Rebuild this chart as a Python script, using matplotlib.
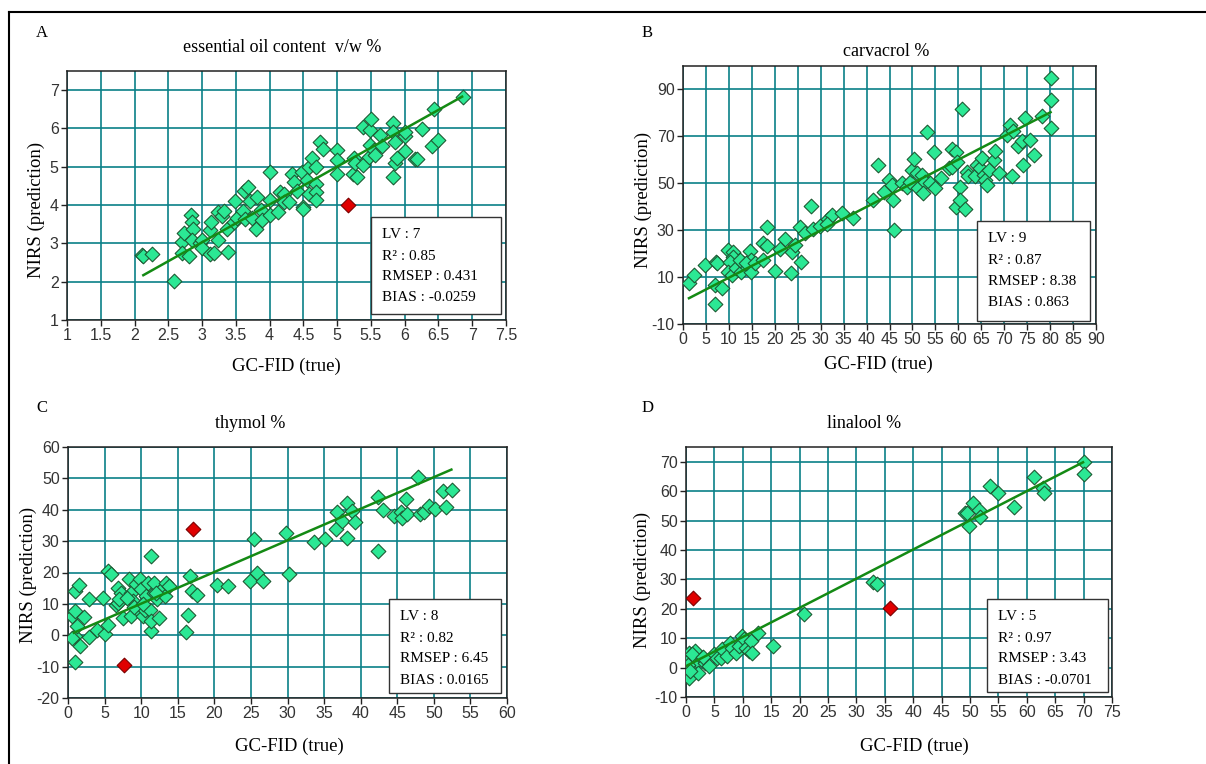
import matplotlib.pyplot as plt
from matplotlib.lines import Line2D
from matplotlib.patches import Rectangle
from matplotlib.ticker import FuncFormatter, MultipleLocator

# --- data ------------------------------------------------------------------
# A: essential oil content
oil_x = [2.11, 2.12, 2.26, 2.58, 2.70, 2.70, 2.73, 2.80, 2.83, 2.85, 2.87, 2.85,
         2.97, 3.00, 3.00, 3.11, 3.12, 3.13, 3.17, 3.24, 3.24, 3.29, 3.33, 3.37,
         3.39, 3.47, 3.49, 3.52, 3.61, 3.62, 3.63, 3.68, 3.71, 3.74, 3.80, 3.81,
         3.87, 3.89, 4.00, 4.00, 4.00, 4.13, 4.15, 4.21, 4.21, 4.29, 4.33, 4.36,
         4.41, 4.48, 4.49, 4.50, 4.55, 4.58, 4.58, 4.63, 4.68, 4.68, 4.68, 4.69,
         4.75, 4.79, 5.00, 5.00, 5.00, 5.23, 5.25, 5.27, 5.29, 5.38, 5.39, 5.47,
         5.49, 5.49, 5.50, 5.54, 5.56, 5.63, 5.66, 5.83, 5.83, 5.83, 5.86, 5.86,
         5.89, 6.00, 6.00, 6.00, 6.15, 6.18, 6.25, 6.41, 6.43, 6.50, 6.86]
oil_y = [2.70, 2.68, 2.71, 2.03, 3.04, 2.74, 3.26, 2.67, 3.74, 3.57, 3.37, 3.10,
         3.00, 3.10, 2.88, 2.72, 3.34, 3.56, 2.74, 3.83, 3.09, 3.72, 3.85, 3.37,
         2.78, 3.55, 4.10, 3.67, 3.85, 4.37, 3.63, 4.47, 4.10, 3.65, 3.37, 4.20,
         3.87, 3.60, 4.87, 4.13, 3.74, 3.82, 4.34, 4.30, 4.08, 4.08, 4.82, 4.60,
         4.38, 4.87, 3.95, 3.91, 4.65, 5.00, 4.30, 5.24, 5.00, 4.56, 4.34, 4.13,
         5.64, 5.47, 5.43, 5.17, 4.82, 4.80, 5.24, 5.11, 4.72, 5.05, 6.04, 5.25,
         5.95, 5.56, 6.25, 5.43, 5.30, 5.83, 5.53, 6.15, 5.90, 4.73, 5.65, 5.10,
         5.22, 5.80, 5.40, 5.90, 5.20, 5.20, 5.99, 5.55, 6.52, 5.70, 6.83]
oil_out_x = [5.16]
oil_out_y = [4.00]
oil_fit_x = [2.13, 6.85]
oil_fit_y = [2.17, 6.83]

# B: carvacrol
carv_x = [1.3, 2.4, 4.7, 7.1, 7.4, 6.9, 6.9, 8.6, 9.8, 10.9, 10.9, 10.2, 9.8,
          10.7, 11.6, 12.7, 13.1, 12.4, 14.6, 14.9, 14.9, 13.8, 15.6, 17.5, 18.2,
          18.2, 17.5, 20.0, 21.1, 22.2, 23.7, 23.5, 24.4, 25.5, 25.8, 26.6, 27.8,
          28.4, 29.8, 31.7, 32.4, 31.3, 34.6, 37.1, 41.5, 42.4, 43.7, 44.8, 45.7,
          46.0, 45.5, 47.7, 48.8, 49.5, 49.8, 50.4, 50.9, 51.3, 52.0, 52.8, 52.4,
          53.1, 53.8, 54.6, 54.9, 56.2, 57.9, 58.6, 58.6, 59.5, 59.7, 59.4, 60.3,
          60.4, 60.8, 61.5, 61.9, 62.1, 63.7, 64.1, 64.8, 65.1, 65.5, 65.8, 66.2,
          66.6, 67.7, 68.0, 68.8, 70.6, 71.7, 71.3, 72.0, 73.1, 73.8, 74.2, 74.6,
          75.7, 76.4, 78.2, 80.1, 80.1, 80.2]
carv_y = [7.3, 10.9, 15.1, 16.3, 15.8, 6.7, -1.5, 5.3, 21.5, 20.8, 18.6, 16.5, 12.2,
          10.8, 13.7, 12.2, 15.8, 17.2, 21.2, 17.2, 12.2, 15.8, 15.8, 24.5, 31.3,
          23.1, 17.2, 12.6, 22.1, 26.4, 20.8, 11.9, 23.7, 31.2, 16.5, 28.8, 40.1,
          30.3, 31.7, 34.6, 36.3, 32.5, 37.4, 35.0, 42.9, 57.8, 46.4, 51.4, 42.9,
          30.1, 49.3, 50.0, 48.6, 50.7, 55.7, 60.2, 54.3, 47.9, 53.6, 50.7, 45.7,
          71.9, 50.3, 63.3, 47.9, 52.1, 56.4, 64.8, 57.1, 63.4, 59.1, 39.8, 48.6,
          42.9, 81.5, 39.2, 55.0, 52.9, 52.9, 57.8, 56.4, 60.7, 53.6, 51.4, 49.3,
          55.7, 60.0, 63.6, 54.3, 70.7, 52.9, 75.0, 72.2, 65.8, 68.0, 57.8, 77.8,
          68.6, 62.2, 78.5, 73.5, 85.7, 94.7]
carv_fit_x = [1.3, 80.1]
carv_fit_y = [1.0, 80.3]

# C: thymol
thym_x = [0.9, 1.5, 0.6, 0.9, 2.2, 2.9, 1.0, 1.7, 1.2, 2.9, 1.0, 0.5, 4.0, 5.1,
          5.4, 4.8, 5.5, 5.9, 6.5, 6.8, 7.2, 7.5, 6.8, 8.4, 8.6, 8.6, 8.9, 9.3,
          9.5, 9.9, 10.0, 10.2, 10.5, 10.7, 10.9, 11.2, 11.4, 11.4, 11.4, 11.8,
          11.8, 12.1, 12.5, 12.8, 13.2, 13.4, 13.8, 7.0, 9.0, 12.0, 10.3, 8.0,
          16.4, 16.1, 16.7, 17.0, 17.6, 20.4, 21.8, 24.9, 25.4, 25.8, 26.6, 29.8,
          30.2, 33.6, 35.1, 36.6, 36.7, 37.4, 38.1, 38.1, 38.8, 39.2, 42.4, 42.4,
          43.1, 44.6, 45.5, 45.7, 46.2, 46.4, 47.9, 48.1, 48.7, 49.4, 50.2, 51.2,
          51.7, 52.5]
thym_y = [14.0, 15.9, 6.1, 7.7, 5.9, 11.6, -0.1, -3.5, 3.0, -0.5, -8.6, -0.8, 1.6,
          0.5, 3.4, 12.0, 20.5, 19.5, 9.5, 15.2, 13.6, 5.5, 10.4, 17.8, 13.6, 6.1,
          10.9, 16.3, 8.2, 17.8, 14.7, 6.1, 8.2, 12.5, 16.8, 8.2, 25.2, 1.3, 4.5,
          13.6, 16.8, 11.4, 5.6, 14.7, 12.5, 16.8, 15.7, 11.5, 9.0, 13.5, 10.0,
          12.0, 6.3, 1.0, 18.8, 14.0, 12.7, 16.0, 15.7, 17.3, 30.8, 20.0, 17.3,
          32.5, 19.5, 29.6, 30.6, 34.0, 39.3, 36.4, 42.1, 31.1, 39.6, 36.1, 44.2,
          26.7, 40.0, 38.1, 39.4, 37.3, 43.4, 38.8, 50.3, 38.8, 39.4, 41.3, 40.2,
          46.1, 40.8, 46.3]
thym_out_x = [7.7, 17.1]
thym_out_y = [-9.6, 33.8]
thym_fit_x = [0.8, 52.4]
thym_fit_y = [0.8, 52.8]

# D: linalool
lina_x = [0.5, 0.8, 0.2, 0.5, 1.1, 1.6, 1.9, 2.2, 2.8, 3.3, 4.0, 4.9, 5.5, 6.1,
          6.4, 7.2, 7.7, 8.1, 8.8, 9.3, 9.9, 10.2, 10.5, 11.1, 11.4, 11.7, 12.7,
          15.3, 0.3, 1.0, 3.0, 0.7, 20.8, 32.9, 33.6, 49.1, 49.4, 49.9, 50.6,
          51.5, 51.8, 53.5, 55.0, 57.8, 61.3, 62.8, 63.0, 70.0, 70.0]
lina_y = [4.9, 3.2, -2.3, -3.4, 0.6, 5.6, 2.2, -1.8, 3.2, 1.6, 0.5, 4.5, 3.4, 3.4,
          6.3, 4.0, 8.5, 6.8, 5.1, 7.4, 10.7, 9.6, 6.8, 5.7, 9.1, 5.1, 11.7,
          7.2, 1.0, 4.5, 3.5, -1.0, 18.2, 29.0, 28.4, 52.5, 52.7, 48.0, 56.0,
          53.7, 51.2, 61.6, 59.3, 54.5, 64.8, 61.0, 59.5, 70.0, 65.9]
lina_out_x = [1.2, 35.9]
lina_out_y = [23.5, 20.1]
lina_fit_x = [0.0, 69.9]
lina_fit_y = [0.5, 69.8]

stats_a = ["LV : 7", "R\u00b2 : 0.85", "RMSEP : 0.431", "BIAS : -0.0259"]
stats_b = ["LV : 9", "R\u00b2 : 0.87", "RMSEP : 8.38", "BIAS : 0.863"]
stats_c = ["LV : 8", "R\u00b2 : 0.82", "RMSEP : 6.45", "BIAS : 0.0165"]
stats_d = ["LV : 5", "R\u00b2 : 0.97", "RMSEP : 3.43", "BIAS : -0.0701"]

# --- styling ---------------------------------------------------------------
W, H = 1206, 764
SERIF = ['Liberation Serif', 'DejaVu Serif']
NARROW = ['Liberation Sans Narrow', 'Liberation Sans', 'DejaVu Sans']
GRID = '#0b8088'
FILL = '#2be894'
EDGE = '#1d5a33'
RED = '#e00000'
LINE = '#148a14'

fig = plt.figure(figsize=(W / 100, H / 100), dpi=100)


def fx(px):
    return px / W


def fy(py):
    return 1 - py / H


def make_panel(rect, x, y, ox, oy, fit_x, fit_y, xlim, ylim, xstep, ystep, yoff,
               letter, letter_xy, title, title_xy, xlab_xy, ylab_xy, box, text_x, text_y, stats):
    l, t, r, b = rect
    ax = fig.add_axes([fx(l), fy(b), fx(r - l), (b - t) / H])
    ax.set_xlim(*xlim)
    ax.set_ylim(*ylim)
    ax.xaxis.set_major_locator(MultipleLocator(xstep))
    ax.yaxis.set_major_locator(MultipleLocator(ystep, offset=yoff))
    fmt = FuncFormatter(lambda v, p: '{:g}'.format(round(v, 3)))
    ax.xaxis.set_major_formatter(fmt)
    ax.yaxis.set_major_formatter(fmt)
    ax.grid(True, color=GRID, lw=1.2, zorder=0)
    ax.set_axisbelow(True)
    for s in ax.spines.values():
        s.set_color('#222222')
        s.set_linewidth(1.1)
    ax.tick_params(direction='out', length=4, width=1, colors='#222222',
                   labelsize=11.5, pad=2)
    for lab in ax.get_xticklabels() + ax.get_yticklabels():
        lab.set_family(NARROW)
        lab.set_color('#333333')

    ax.scatter(x, y, marker='D', s=56, c=FILL, edgecolors=EDGE, linewidths=0.8, zorder=3)
    if ox:
        ax.scatter(ox, oy, marker='D', s=56, c=RED, edgecolors='#7a0000', linewidths=0.8, zorder=3)
    ax.plot(fit_x, fit_y, color=LINE, lw=1.8, zorder=4)

    fig.text(fx(letter_xy[0]), fy(letter_xy[1]), letter, family=SERIF, fontsize=12,
             ha='center', va='center')
    fig.text(fx(title_xy[0]), fy(title_xy[1]), title, family=SERIF, fontsize=13,
             ha='center', va='center')
    fig.text(fx(xlab_xy[0]), fy(xlab_xy[1]), 'GC-FID (true)', family=SERIF, fontsize=13.5,
             ha='center', va='center')
    fig.text(fx(ylab_xy[0]), fy(ylab_xy[1]), 'NIRS (prediction)', family=SERIF, fontsize=13.5,
             ha='center', va='center', rotation=90)

    bl, bt, br, bb = box
    fig.add_artist(Rectangle((fx(bl), fy(bb)), fx(br - bl), (bb - bt) / H,
                             transform=fig.transFigure, facecolor='white',
                             edgecolor='#333333', lw=1.0, zorder=5))
    for ty, s in zip(text_y, stats):
        fig.text(fx(text_x), fy(ty), s, family=SERIF, fontsize=11,
                 ha='left', va='center', zorder=6)
    return ax


make_panel((67, 71, 506, 320), oil_x, oil_y, oil_out_x, oil_out_y, oil_fit_x, oil_fit_y,
           (1, 7.5), (1, 7.5), 0.5, 1, 0, 'A', (42, 33), 'essential oil content  v/w %', (282, 47),
           (286, 366), (36, 210), (371, 217, 501, 314), 382, [235, 256, 277, 298], stats_a)

make_panel((683, 66, 1096, 324), carv_x, carv_y, [], [], carv_fit_x, carv_fit_y,
           (0, 90), (-10, 100), 5, 20, 10, 'B', (647, 33), 'carvacrol %', (886, 52),
           (878, 364), (643, 200), (977, 221, 1090, 321), 988, [238, 260, 282, 303], stats_b)

make_panel((68, 447, 507, 698), thym_x, thym_y, thym_out_x, thym_out_y, thym_fit_x, thym_fit_y,
           (0, 60), (-20, 60), 5, 10, 0, 'C', (42, 408), 'thymol %', (250, 423),
           (289, 746), (28, 575), (389, 599, 501, 693), 400, [617, 638, 659, 681], stats_c)

make_panel((686, 447, 1112, 697), lina_x, lina_y, lina_out_x, lina_out_y, lina_fit_x, lina_fit_y,
           (0, 75), (-10, 75), 5, 10, 0, 'D', (648, 408), 'linalool %', (864, 423),
           (914, 746), (642, 580), (987, 599, 1108, 692), 998, [617, 638, 659, 680], stats_d)

# outer frame (top and left edges visible in the reference)
fig.add_artist(Line2D([fx(9), 1], [fy(12), fy(12)], color='black', lw=1.5))
fig.add_artist(Line2D([fx(9), fx(9)], [fy(12), 0], color='black', lw=1.5))

plt.savefig('out.png', dpi=100)
